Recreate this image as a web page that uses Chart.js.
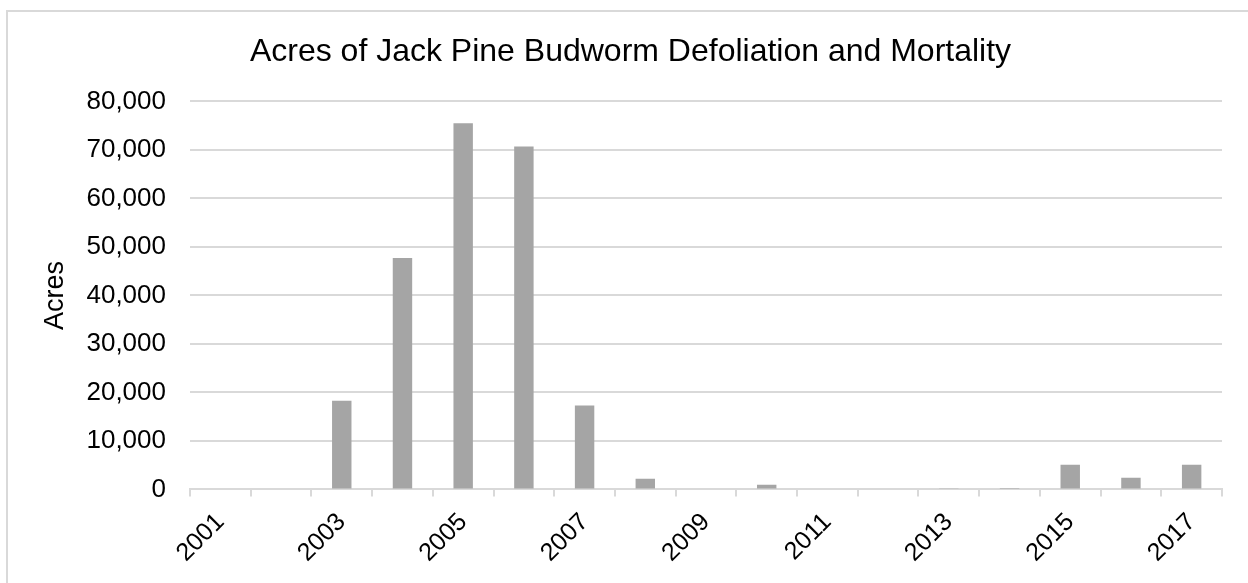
<!DOCTYPE html>
<html>
<head>
<meta charset="utf-8">
<script src="https://cdn.jsdelivr.net/npm/chart.js@4"></script>
<style>
  html, body { margin: 0; padding: 0; background: #fff; }
  #wrap { position: relative; width: 1248px; height: 583px; overflow: hidden; }
  #frame { position: absolute; left: 6px; top: 10px; width: 1300px; height: 650px;
           border-left: 2px solid #d9d9d9; border-top: 2px solid #d9d9d9; }
  canvas { position: absolute; left: 0; top: 0; }
</style>
</head>
<body>
<div id="wrap">
  <div id="frame"></div>
  <canvas id="chart" width="1248" height="583"></canvas>
</div>
<script>
// chart data
const years = ["2001", "2002", "2003", "2004", "2005", "2006", "2007", "2008", "2009",
  "2010", "2011", "2012", "2013", "2014", "2015", "2016", "2017"];
const acres = [0, 0, 18300, 47700, 75500, 70700, 17300, 2200, 0,
  950, 0, 0, 150, 300, 5100, 2400, 5100];
const yTicks = [0, 10000, 20000, 30000, 40000, 50000, 60000, 70000, 80000];

const font = "'Liberation Sans', Arial, sans-serif";
const textColor = "#000";
const gridColor = "#d9d9d9";

Chart.defaults.font.family = font;
Chart.defaults.color = textColor;

const ctx = document.getElementById("chart");

new Chart(ctx, {
  type: "bar",
  data: {
    labels: years,
    datasets: [
      {
        label: "Acres",
        data: acres,
        backgroundColor: "#a5a5a5",
        borderWidth: 0,
        categoryPercentage: 0.32,
        barPercentage: 1,
      },
    ],
  },
  options: {
    responsive: false,
    animation: false,
    layout: { padding: { left: 39, right: 26, top: 33, bottom: 4 } },
    plugins: {
      legend: { display: false },
      tooltip: { enabled: false },
      title: {
        display: true,
        text: "Acres of Jack Pine Budworm Defoliation and Mortality",
        color: textColor,
        font: { size: 32, weight: "normal" },
        padding: { top: 0, bottom: 30 },
      },
    },
    scales: {
      x: {
        offset: true,
        grid: {
          offset: true,
          drawOnChartArea: false,
          color: gridColor,
          lineWidth: 2,
          tickLength: 7,
        },
        border: { color: gridColor, width: 2 },
        ticks: {
          autoSkip: false,
          minRotation: 45,
          maxRotation: 45,
          padding: 11,
          color: textColor,
          font: { size: 25 },
          callback: (v, i) => (i % 2 === 0 ? years[i] : ""),
        },
      },
      y: {
        min: 0,
        max: 80000,
        afterBuildTicks: (axis) => {
          axis.ticks = yTicks.map((v) => ({ value: v }));
        },
        afterFit: (axis) => {
          axis.width = 151;
        },
        grid: { color: gridColor, lineWidth: 2, drawTicks: false },
        border: { display: false },
        ticks: {
          padding: 24,
          color: textColor,
          font: { size: 26 },
          callback: (v) => v.toLocaleString("en-US"),
        },
        title: {
          display: true,
          text: "Acres",
          color: textColor,
          font: { size: 27 },
          padding: { top: 0, bottom: 10 },
        },
      },
    },
  },
});
</script>
</body>
</html>
